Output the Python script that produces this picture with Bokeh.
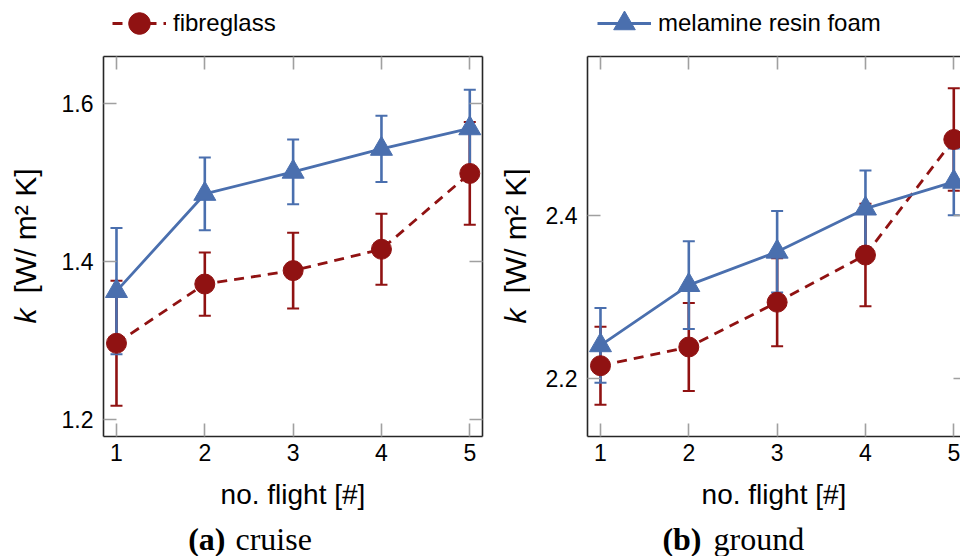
import numpy as np
from bokeh.plotting import figure
from bokeh.models import (ColumnDataSource, Whisker, TeeHead, Legend, LegendItem,
                          LinearAxis, FixedTicker, Range1d)
from bokeh.layouts import row, column
from bokeh.embed import file_html
from bokeh.resources import INLINE
from bokeh.core.properties import value

# ---------------- data ----------------
flights = [1, 2, 3, 4, 5]
x_ticks = [1, 2, 3, 4, 5]

cruise_fibreglass = [1.297, 1.372, 1.389, 1.416, 1.512]
cruise_fibreglass_err = [0.079, 0.040, 0.048, 0.045, 0.065]
cruise_melamine = [1.363, 1.486, 1.514, 1.543, 1.569]
cruise_melamine_err = [0.080, 0.046, 0.041, 0.042, 0.049]

ground_fibreglass = [2.216, 2.239, 2.294, 2.352, 2.494]
ground_fibreglass_err = [0.048, 0.054, 0.054, 0.063, 0.063]
ground_melamine = [2.241, 2.315, 2.356, 2.409, 2.442]
ground_melamine_err = [0.046, 0.054, 0.050, 0.047, 0.041]

cruise_yticks = [1.2, 1.4, 1.6]
ground_yticks = [2.2, 2.4]

series_names = ["fibreglass", "melamine resin foam"]
x_label = "no. flight [#]"
y_label_var = "k"
y_label_unit = "[W/ m\u00b2 K]"
caption_tags = ["(a)", "(b)"]
caption_words = ["cruise", "ground"]

RED = "#901212"
BLUE = "#4a6fae"
TICK = "#a0a0a0"
FRAME = "#262626"
SANS = "Liberation Sans"
SERIF = "Liberation Serif"

TOTAL_W, TOTAL_H = 960, 556
LEG_H = 52            # legend strip on top
ROW_BOTTOM = 520      # canvas y where the panel row ends
PANEL_H = ROW_BOTTOM - LEG_H
CAP_H = TOTAL_H - ROW_BOTTOM
FRAME_TOP, FRAME_BOTTOM = 56, 436
KEY = 54              # legend key box (marker is 0.4 of it)


def make_axis(ticks, labels, tick_in=13):
    ax = LinearAxis(ticker=FixedTicker(ticks=ticks),
                    major_tick_in=tick_in, major_tick_out=0,
                    minor_tick_in=0, minor_tick_out=0,
                    major_tick_line_color=TICK, major_tick_line_width=1.6,
                    axis_line_color=FRAME, axis_line_width=1.6)
    if labels:
        ax.major_label_text_font = SANS
        ax.major_label_text_font_size = "23px"
        ax.major_label_text_color = "black"
    else:
        ax.major_label_text_font_size = "1px"
        ax.major_label_text_color = None
        ax.major_label_standoff = 0
    return ax


def blank_fig(width, height, **kw):
    f = figure(width=width, height=height, x_range=Range1d(0, width),
               y_range=Range1d(0, height), x_axis_type=None, y_axis_type=None,
               output_backend="svg", toolbar_location=None, min_border=0, **kw)
    f.outline_line_color = None
    return f


def ylabel_fig(width, center_x):
    # same vertical borders as the panels, so that the frames line up;
    # y is measured upward from the bottom of the panel row
    f = figure(width=width, height=PANEL_H, x_range=Range1d(0, width),
               y_range=Range1d(ROW_BOTTOM - FRAME_BOTTOM, ROW_BOTTOM - FRAME_TOP),
               x_axis_type=None, y_axis_type=None, output_backend="svg",
               toolbar_location=None, min_border_left=0, min_border_right=0,
               min_border_top=FRAME_TOP - LEG_H,
               min_border_bottom=ROW_BOTTOM - FRAME_BOTTOM)
    f.outline_line_color = None
    f.text(x=[center_x], y=[ROW_BOTTOM - 323], text=[y_label_var], angle=np.pi / 2,
           text_align="left", text_baseline="middle", text_font=value(SANS),
           text_font_style="italic", text_font_size="30px", text_color="black")
    f.text(x=[center_x], y=[ROW_BOTTOM - 168], text=[y_label_unit], angle=np.pi / 2,
           text_align="right", text_baseline="middle", text_font=value(SANS),
           text_font_size="30px", text_color="black")
    return f


def make_panel(fib, fib_err, mel, mel_err, yticks, y_range, x_end, width,
               border_left, border_right, right_tick_in=13, right_line=True):
    p = figure(width=width, height=PANEL_H, x_range=Range1d(0.853, x_end),
               y_range=Range1d(*y_range), x_axis_type=None, y_axis_type=None,
               output_backend="svg", toolbar_location=None,
               min_border_left=border_left, min_border_right=border_right,
               min_border_top=FRAME_TOP - LEG_H,
               min_border_bottom=ROW_BOTTOM - FRAME_BOTTOM)
    p.outline_line_color = None

    bottom = make_axis(x_ticks, True)
    bottom.major_label_standoff = 7
    bottom.axis_label = x_label
    bottom.axis_label_text_font = SANS
    bottom.axis_label_text_font_size = "28px"
    bottom.axis_label_text_font_style = "normal"
    bottom.axis_label_text_color = "black"
    bottom.axis_label_standoff = 15
    p.add_layout(bottom, "below")

    left = make_axis(yticks, True)
    left.major_label_standoff = 10
    p.add_layout(left, "left")

    p.add_layout(make_axis(x_ticks, False), "above")

    right = make_axis(yticks, False, tick_in=right_tick_in)
    if not right_line:
        right.axis_line_color = None
    p.add_layout(right, "right")

    fib = np.array(fib)
    mel = np.array(mel)
    src_f = ColumnDataSource(dict(x=flights, y=fib, upper=fib + np.array(fib_err),
                                  lower=fib - np.array(fib_err)))
    src_m = ColumnDataSource(dict(x=flights, y=mel, upper=mel + np.array(mel_err),
                                  lower=mel - np.array(mel_err)))

    for src, col in ((src_f, RED), (src_m, BLUE)):
        w = Whisker(base="x", upper="upper", lower="lower", source=src,
                    line_color=col, line_width=2.6,
                    upper_head=TeeHead(size=12, line_color=col, line_width=2),
                    lower_head=TeeHead(size=12, line_color=col, line_width=2))
        p.add_layout(w)

    p.line("x", "y", source=src_f, line_color=RED, line_width=2.8, line_dash="10 7")
    p.scatter("x", "y", source=src_f, marker="circle", size=20,
              fill_color=RED, line_color=RED)
    p.line("x", "y", source=src_m, line_color=BLUE, line_width=2.8)
    p.scatter("x", "y", source=src_m, marker="triangle", size=22,
              fill_color=BLUE, line_color=BLUE)
    return p


# ---------------- legend strip ----------------
strip = blank_fig(TOTAL_W, LEG_H)
styles = [dict(color=RED, dash="10 7", marker="circle"),
          dict(color=BLUE, dash="solid", marker="triangle")]
legend_left = [112, 597]
for name, st, lx in zip(series_names, styles, legend_left):
    # key-only renderers: NaN data draws nothing in the strip itself
    key_src = ColumnDataSource(dict(x=[np.nan], y=[np.nan]))
    lr = strip.line("x", "y", source=key_src, line_color=st["color"], line_width=2.8,
                    line_dash=st["dash"])
    sr = strip.scatter("x", "y", source=key_src, marker=st["marker"],
                       fill_color=st["color"], line_color=st["color"])
    leg = Legend(items=[LegendItem(label=name, renderers=[lr, sr])],
                 location=(lx, LEG_H - 23 - KEY // 2), orientation="horizontal",
                 glyph_width=KEY, glyph_height=KEY, label_standoff=7,
                 padding=0, margin=0, spacing=0, border_line_color=None,
                 background_fill_alpha=0, label_text_font=SANS,
                 label_text_font_size="24px", label_text_color="black")
    strip.add_layout(leg)

# ---------------- panels ----------------
ya = ylabel_fig(45, 25)
pa = make_panel(cruise_fibreglass, cruise_fibreglass_err, cruise_melamine,
                cruise_melamine_err, cruise_yticks, (1.179, 1.66), 5.144, 442,
                58, 5)
yb = ylabel_fig(43, 514.5 - 487)
pb = make_panel(ground_fibreglass, ground_fibreglass_err, ground_melamine,
                ground_melamine_err, ground_yticks, (2.129, 2.596), 5.076, 430,
                57, 0, right_tick_in=7, right_line=False)

# ---------------- captions ----------------
cap = blank_fig(TOTAL_W, CAP_H)
cap.text(x=[225, 701], y=[TOTAL_H - 538] * 2, text=caption_tags, text_align="right",
         text_baseline="middle", text_font=value(SERIF), text_font_style="bold",
         text_font_size="32px", text_color="black")
cap.text(x=[235, 713], y=[TOTAL_H - 538] * 2, text=caption_words, text_align="left",
         text_baseline="middle", text_font=value(SERIF),
         text_font_size="32px", text_color="black")

layout = column(strip, row(ya, pa, yb, pb, spacing=0), cap, spacing=0)
open("out.html", "w").write(file_html(layout, INLINE))
